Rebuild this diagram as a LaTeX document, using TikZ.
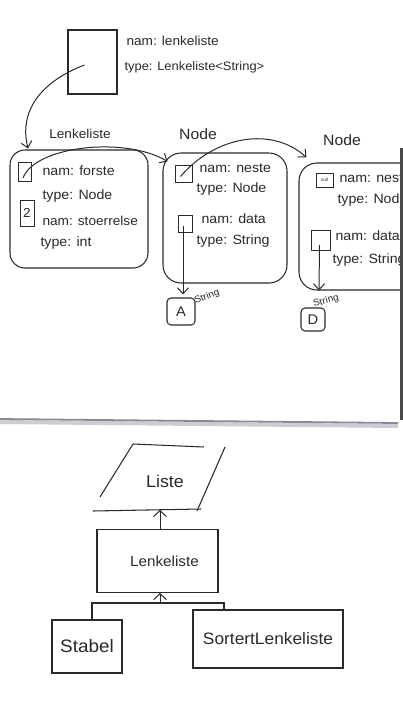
\documentclass[tikz,border=0pt]{standalone}
\usepackage{fontspec}
\setmainfont{Liberation Sans}
\newfontfamily\hand[FakeStretch=1.05]{Liberation Sans}
\usetikzlibrary{arrows.meta}
\definecolor{ink}{HTML}{2A2A2A}
\definecolor{paperedge}{HTML}{8E8896}
\definecolor{papershade}{HTML}{CFCBD3}
\begin{document}
\begin{tikzpicture}[x=1pt,y=-1pt,
  line width=1.05pt, draw=ink, text=ink,
  box/.style={draw, rectangle, inner sep=0pt},
  objbox/.style={draw, rectangle, rounded corners=15pt, inner sep=0pt},
  cell/.style={draw, rectangle, inner sep=0pt, line width=0.9pt},
  valbox/.style={draw, rectangle, rounded corners=4pt, inner sep=0pt,
    font=\hand\fontsize{14}{16}\selectfont},
  lbl/.style={anchor=west, inner sep=0pt, font=\hand\fontsize{13.5}{15}\selectfont},
  toplbl/.style={anchor=west, inner sep=0pt, font=\hand\fontsize{13}{15}\selectfont},
  hdr/.style={inner sep=0pt, font=\hand\fontsize{15}{17}\selectfont},
  tiny/.style={inner sep=0pt, font=\hand\fontsize{9.5}{10}\selectfont},
  ptr/.style={-{Straight Barb[length=6pt,width=11pt]}, line width=1pt},
  inherit/.style={-{Straight Barb[length=6pt,width=13pt]}, line width=1pt},
]
\useasboundingbox (0,0) rectangle (403,710);
\fill[white] (0,0) rectangle (403,710);

% ---------- reference variable ----------
\node[box, minimum width=49pt, minimum height=64pt] (ref) at (92.5,62) {};
\node[toplbl] (refnam) at (126,41) {nam: lenkeliste};
\node[toplbl, font=\hand\fontsize{12.3}{14}\selectfont] (reftype) at (124,67) {type: Lenkeliste<String>};

% ---------- headers ----------
\node[hdr, font=\hand\fontsize{13}{15}\selectfont] (hlk) at (80,134) {Lenkeliste};
\node[hdr] (hn1) at (198,134) {Node};
\node[hdr] (hn2) at (342,140) {Node};

% ---------- Lenkeliste object ----------
\node[objbox, minimum width=138pt, minimum height=118pt] (lk) at (79,209) {};
\node[cell, minimum width=13pt, minimum height=19pt] (lkfirst) at (25,172) {};
\node[lbl] (lkfirstnam) at (42,171) {nam: forste};
\node[lbl] (lkfirsttype) at (42,196) {type: Node};
\node[cell, minimum width=14pt, minimum height=26pt,
  font=\hand\fontsize{13}{15}\selectfont] (lksize) at (27,213) {2};
\node[lbl, font=\hand\fontsize{13}{15}\selectfont] (lksizenam) at (42,221) {nam: stoerrelse};
\node[lbl] (lksizetype) at (40,243) {type: int};

% ---------- first Node ----------
\node[objbox, rounded corners=18pt, minimum width=124pt, minimum height=130pt] (n1) at (225,218) {};
\node[cell, minimum width=17pt, minimum height=17pt] (n1next) at (183.5,173.5) {};
\node[lbl] (n1nextnam) at (199,168) {nam: neste};
\node[lbl] (n1nexttype) at (196,189) {type: Node};
\node[cell, minimum width=14pt, minimum height=17pt] (n1data) at (185,223.5) {};
\node[lbl] (n1datanam) at (201,219) {nam: data};
\node[lbl] (n1datatype) at (196,241) {type: String};
\node[valbox, minimum width=28pt, minimum height=27pt] (va) at (181,311.5) {A};
\node[tiny, rotate=20] (vatype) at (207,297) {String};

% ---------- second Node (runs off the sheet) ----------
\begin{scope}
\clip (0,0) rectangle (400,430);
\node[objbox, rounded corners=18pt, minimum width=122pt, minimum height=127pt] (n2) at (360,226.5) {};
\node[cell, minimum width=17pt, minimum height=14pt,
  font=\hand\fontsize{4.5}{5}\selectfont] (n2next) at (324.5,180) {null};
\node[lbl] (n2nextnam) at (339,178) {nam: neste};
\node[lbl] (n2nexttype) at (337,200) {type: Node};
\node[cell, minimum width=19pt, minimum height=20pt] (n2data) at (320.5,240) {};
\node[lbl] (n2datanam) at (335,236) {nam: data};
\node[lbl] (n2datatype) at (332,260) {type: String};
\end{scope}
\node[valbox, minimum width=24pt, minimum height=23pt] (vd) at (313,319.5) {D};
\node[tiny, rotate=15] (vdtype) at (326,301) {String};

% ---------- references ----------
\draw[ptr] ([shift={(-8,3)}]ref.center) .. controls (45,80) and (18,108) .. ([shift={(-51,-1)}]lk.north);
\draw[ptr] ([shift={(-2,6)}]lkfirst.center) .. controls (35,146) and (125,136) .. ([shift={(5,9)}]n1.north west);
\draw[ptr] ([shift={(-3,3)}]n1next.center) .. controls (215,136) and (272,126) .. ([shift={(8,-5)}]n2.north west);
\draw[ptr] ([shift={(-2,2)}]n1data.center) -- ([shift={(2,-3)}]va.north);
\draw[ptr] ([shift={(-1,5)}]n2data.center) -- ([shift={(6,-17)}]vd.north);

% ---------- sheet edges ----------
\draw[line width=3pt, color=ink!85] (401.5,148) -- (401.5,420);
\draw[line width=4pt, color=papershade] (0,422) -- (398,426);
\draw[line width=1.8pt, color=paperedge] (0,419) -- (398,423);

% ---------- class hierarchy ----------
\coordinate (L1) at (133,444);
\coordinate (L2) at (204,447);
\coordinate (L3) at (225,447);
\coordinate (L4) at (197,511);
\coordinate (L5) at (201,509);
\coordinate (L6) at (93,511);
\coordinate (L7) at (100,497);
\draw (L1) -- (L2);
\draw (L3) -- (L4);
\draw (L6) -- (L5);
\draw (L1) -- (L7);
\node[inner sep=0pt, font=\hand\fontsize{17}{19}\selectfont] (liste) at (165,481) {Liste};
\coordinate (listebase) at (160,510);

\node[box, minimum width=121pt, minimum height=63pt,
  font=\hand\fontsize{14.5}{16}\selectfont] (lkcls) at (157.5,561) {\hspace{14pt}Lenkeliste};
\draw[inherit] (listebase |- lkcls.north) -- (listebase);

\node[box, minimum width=70pt, minimum height=53pt,
  font=\hand\fontsize{18}{20}\selectfont] (stabel) at (87,646.5) {Stabel};
\node[box, minimum width=150pt, minimum height=58pt,
  font=\hand\fontsize{16.5}{18}\selectfont] (sll) at (268,639) {SortertLenkeliste};

\coordinate (fork) at (160,603);
\coordinate (jl) at (92,603);
\coordinate (jr) at (224,603);
\draw[inherit] (fork) -- (fork |- lkcls.south);
\draw (jl |- stabel.north) -- (jl) -- (jr) -- (jr |- sll.north);
\end{tikzpicture}
\end{document}
